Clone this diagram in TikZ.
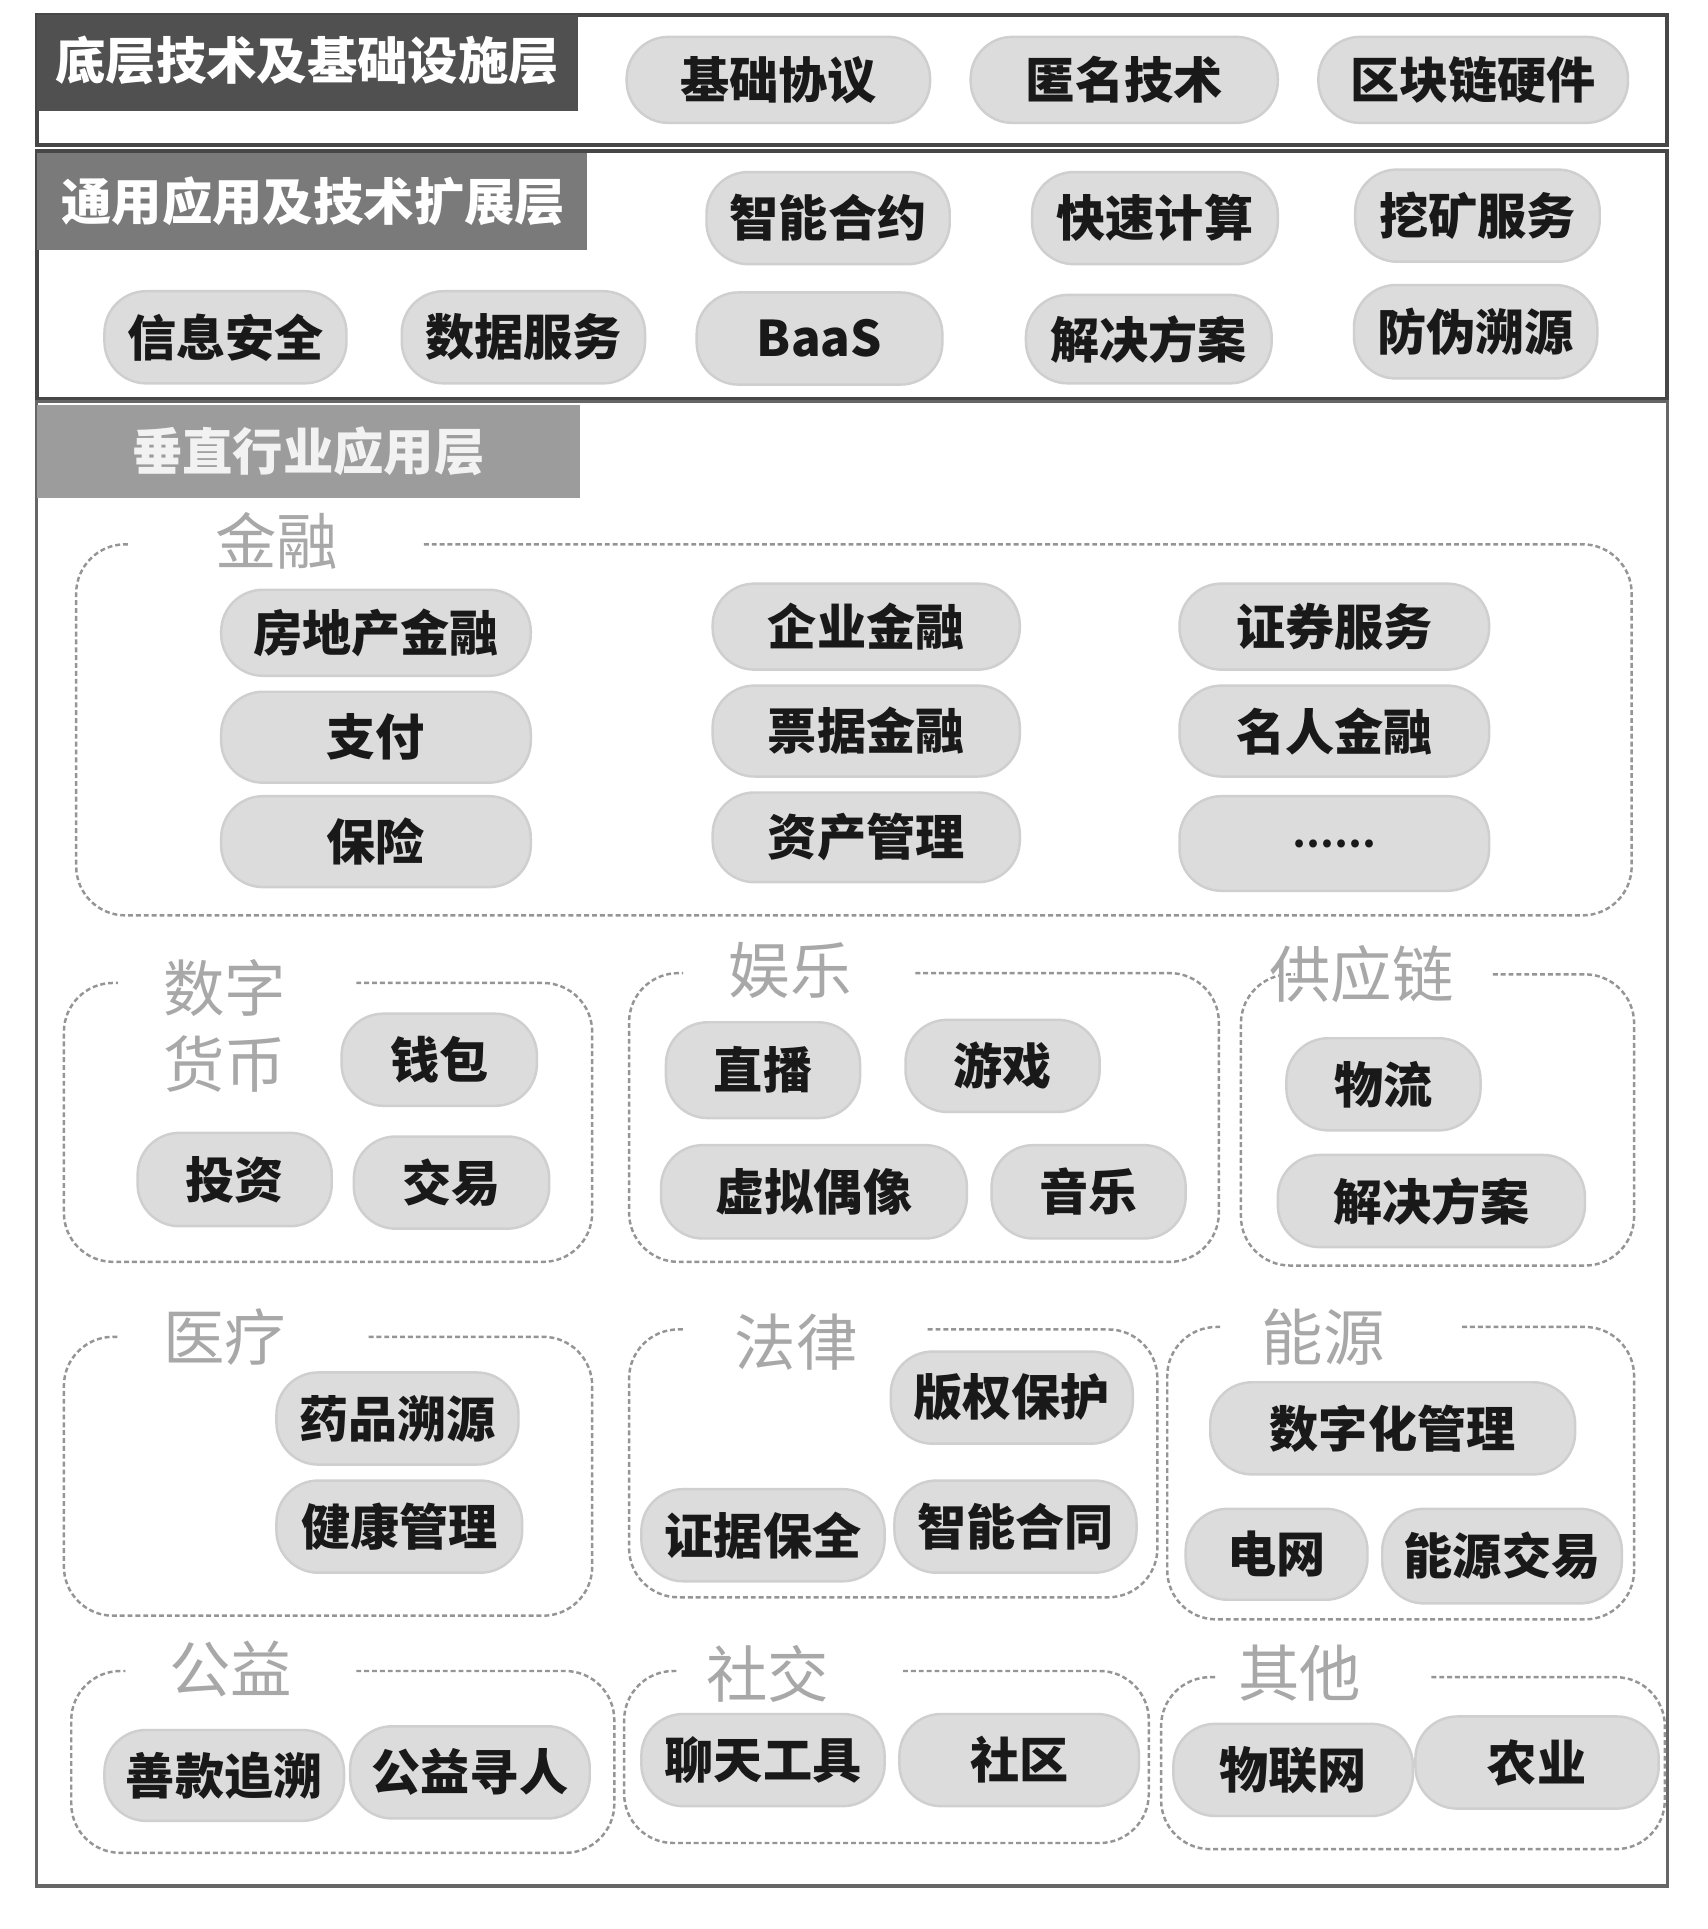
\documentclass[tikz,border=0pt]{standalone}
\usepackage{fontspec}
\setmainfont{Noto Sans CJK SC}
\usetikzlibrary{calc}
\definecolor{hdrA}{HTML}{505050}
\definecolor{hdrB}{HTML}{7A7A7A}
\definecolor{hdrC}{HTML}{9C9C9C}
\definecolor{pillfill}{HTML}{DCDCDC}
\definecolor{pilledge}{HTML}{CFCFCF}
\definecolor{ttlgray}{HTML}{A8A8A8}
\definecolor{grpgray}{HTML}{959595}
\tikzset{
  frame/.style={draw=black!72, line width=1.6pt},
  hdr/.style={anchor=north west, inner sep=0pt, text=white,
    font=\bfseries\fontsize{20.5}{20.5}\selectfont},
  pill/.style={draw=pilledge, fill=pillfill, line width=1pt, rounded corners=17pt,
    inner sep=0pt, font=\bfseries\fontsize{20}{20}\selectfont, text=black!90},
  ttl/.style={inner sep=0pt, text=ttlgray, font=\fontsize{25}{31}\selectfont, align=center},
  grpline/.style={draw=grpgray, line width=1pt, dash pattern=on 2pt off 1.2pt, rounded corners=20pt},
}
% \pillc{name}{x1}{y1}{x2}{y2}{text}
\newcommand\pillc[6]{\node[pill, minimum width={(#4-#2)*0.5pt}, minimum height={(#5-#3)*0.5pt}]
  (#1) at ({(#2+#4)/2},{(#3+#5)/2}) {#6};}
% \grpbox{x1}{y1}{x2}{y2}{line start}
\newcommand\grpbox[5]{\draw[grpline] (#5,#2) -- (#3,#2) -- (#3,#4) -- (#1,#4) -- (#1,#2) -- ({#1+44},#2);}
\begin{document}
\begin{tikzpicture}[x=0.5pt, y=-0.5pt]
\useasboundingbox[fill=white] (0,0) rectangle (1390,1570);
% ---------- layer frames ----------
\draw[frame] (30,12) rectangle (1357,118);
\draw[frame] (30,123) rectangle (1357,325);
\draw[frame, draw=black!60, line width=1.3pt] (30,327) rectangle (1357,1535);
% ---------- headers ----------
\node[hdr, fill=hdrA, minimum width=220pt, minimum height=39pt] (h1) at (30,12) {};
\node[text=white, font=\bfseries\fontsize{20.5}{20.5}\selectfont, inner sep=0pt] (h1t) at (250,49) {底层技术及基础设施层};
\node[hdr, fill=hdrB, minimum width=223.5pt, minimum height=39.5pt] (h2) at (30,124) {};
\node[text=white, font=\bfseries\fontsize{20.5}{20.5}\selectfont, inner sep=0pt] (h2t) at (255,164) {通用应用及技术扩展层};
\node[hdr, fill=hdrC, minimum width=221pt, minimum height=38pt] (h3) at (30,329) {};
\node[text=white!95!black, font=\bfseries\fontsize{20.5}{20.5}\selectfont, inner sep=0pt] (h3t) at (251,367) {垂直行业应用层};
% ---------- layer 1 ----------
\pillc{p11}{510}{30}{757}{100}{基础协议}
\pillc{p12}{790}{30}{1040}{100}{匿名技术}
\pillc{p13}{1073}{30}{1325}{100}{区块链硬件}
% ---------- layer 2 ----------
\pillc{p21}{575}{140}{773}{215}{智能合约}
\pillc{p22}{840}{140}{1040}{215}{快速计算}
\pillc{p23}{1103}{138}{1302}{213}{挖矿服务}
\pillc{p24}{85}{237}{282}{312}{信息安全}
\pillc{p25}{327}{237}{525}{312}{数据服务}
\pillc{p26}{567}{238}{767}{313}{BaaS}
\pillc{p27}{835}{240}{1035}{312}{解决方案}
\pillc{p28}{1102}{232}{1300}{308}{防伪溯源}
% ---------- 金融 ----------
\grpbox{62}{443}{1328}{745}{345}
\node[ttl] (t-jr) at (225,440) {金融};
\pillc{f1}{180}{480}{432}{550}{房地产金融}
\pillc{f2}{180}{563}{432}{637}{支付}
\pillc{f3}{180}{648}{432}{722}{保险}
\pillc{f4}{580}{475}{830}{545}{企业金融}
\pillc{f5}{580}{558}{830}{632}{票据金融}
\pillc{f6}{580}{645}{830}{718}{资产管理}
\pillc{f7}{960}{475}{1212}{545}{证券服务}
\pillc{f8}{960}{558}{1212}{632}{名人金融}
\pillc{f9}{960}{648}{1212}{725}{\raisebox{-3pt}{\fontsize{15}{15}\selectfont ……}}
% ---------- 数字货币 ----------
\grpbox{52}{800}{482}{1027}{290}
\node[ttl] (t-sz) at (183,835) {数字\\货币};
\pillc{d1}{278}{825}{437}{900}{钱包}
\pillc{d2}{112}{922}{270}{998}{投资}
\pillc{d3}{288}{925}{447}{1000}{交易}
% ---------- 娱乐 ----------
\grpbox{512}{792}{992}{1027}{745}
\node[ttl] (t-yl) at (643,790) {娱乐};
\pillc{e1}{542}{832}{700}{910}{直播}
\pillc{e2}{737}{830}{895}{905}{游戏}
\pillc{e3}{538}{932}{787}{1008}{虚拟偶像}
\pillc{e4}{807}{932}{965}{1008}{音乐}
% ---------- 供应链 ----------
\grpbox{1010}{793}{1330}{1030}{1215}
\node[ttl] (t-gyl) at (1108,793) {供应链};
\pillc{s1}{1047}{845}{1205}{920}{物流}
\pillc{s2}{1040}{940}{1290}{1015}{解决方案}
% ---------- 医疗 ----------
\grpbox{52}{1088}{482}{1315}{300}
\node[ttl] (t-yi) at (183,1088) {医疗};
\pillc{m1}{225}{1117}{422}{1192}{药品溯源}
\pillc{m2}{225}{1205}{425}{1280}{健康管理}
% ---------- 法律 ----------
\grpbox{512}{1082}{942}{1300}{755}
\node[ttl] (t-fl) at (648,1092) {法律};
\pillc{l1}{725}{1100}{922}{1175}{版权保护}
\pillc{l2}{522}{1212}{720}{1287}{证据保全}
\pillc{l3}{728}{1205}{925}{1280}{智能合同}
% ---------- 能源 ----------
\grpbox{950}{1080}{1330}{1318}{1190}
\node[ttl] (t-ny) at (1077,1088) {能源};
\pillc{n1}{985}{1125}{1282}{1200}{数字化管理}
\pillc{n2}{965}{1228}{1113}{1302}{电网}
\pillc{n3}{1125}{1228}{1320}{1305}{能源交易}
% ---------- 公益 ----------
\grpbox{58}{1360}{500}{1508}{290}
\node[ttl] (t-gy) at (188,1358) {公益};
\pillc{g1}{85}{1408}{280}{1482}{善款追溯}
\pillc{g2}{285}{1405}{480}{1480}{公益寻人}
% ---------- 社交 ----------
\grpbox{508}{1360}{935}{1500}{735}
\node[ttl] (t-sj) at (625,1362) {社交};
\pillc{c1}{522}{1395}{720}{1470}{聊天工具}
\pillc{c2}{732}{1395}{927}{1470}{社区}
% ---------- 其他 ----------
\grpbox{945}{1365}{1355}{1505}{1165}
\node[ttl] (t-qt) at (1058,1362) {其他};
\pillc{o1}{955}{1403}{1150}{1478}{物联网}
\pillc{o2}{1152}{1397}{1350}{1472}{农业}
\end{tikzpicture}
\end{document}
